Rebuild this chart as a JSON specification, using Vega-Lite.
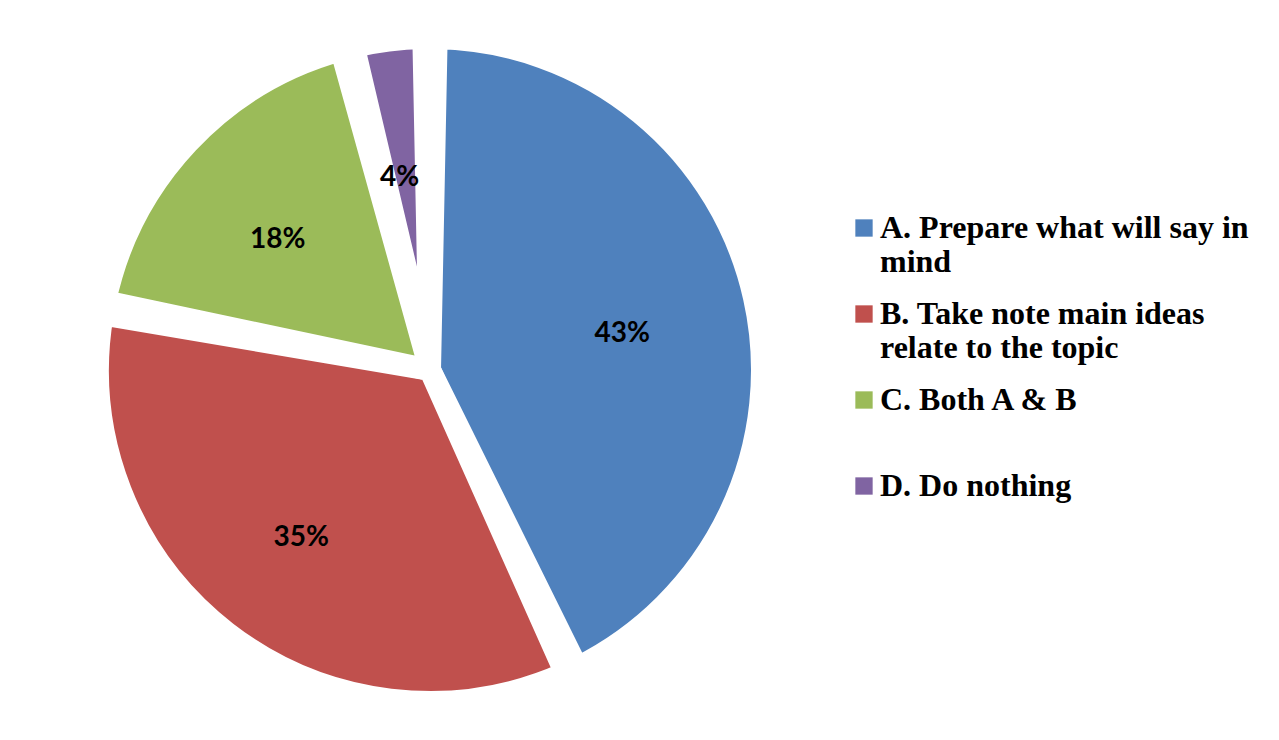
{
  "$schema": "https://vega.github.io/schema/vega-lite/v6.json",
  "width": 860,
  "height": 740,
  "padding": 0,
  "autosize": {"type": "pad"},
  "background": "white",
  "view": {"stroke": null},
  "data": {
    "values": [
      {"category": "A. Prepare what will say in mind", "share": 0.43},
      {"category": "B. Take note main ideas relate to the topic", "share": 0.35},
      {"category": "C. Both A & B", "share": 0.18},
      {"category": "D. Do nothing", "share": 0.04}
    ]
  },
  "encoding": {
    "theta": {"field": "share", "type": "quantitative", "stack": true},
    "order": {"field": "category", "type": "nominal"}
  },
  "layer": [
    {
      "mark": {"type": "arc", "radius": 332, "stroke": "white", "strokeWidth": 22, "padAngle": 0.04, "strokeJoin": "round"},
      "encoding": {
        "color": {
          "field": "category",
          "type": "nominal",
          "scale": {
            "domain": ["A. Prepare what will say in mind", "B. Take note main ideas relate to the topic", "C. Both A & B", "D. Do nothing"],
            "range": ["#4F81BD", "#C0504D", "#9BBB59", "#8064A2"]
          },
          "legend": {
            "title": null,
            "orient": "none",
            "legendX": 848,
            "legendY": 212,
            "symbolType": "square",
            "symbolSize": 300,
            "symbolStrokeWidth": 0,
            "labelFont": "Liberation Serif",
            "labelFontWeight": "bold",
            "labelFontSize": 32,
            "labelColor": "black",
            "labelLimit": 440,
            "labelOffset": 0,
            "rowPadding": 20,
            "labelExpr": "datum.label == 'A. Prepare what will say in mind' ? ['A. Prepare what will say in', 'mind'] : datum.label == 'B. Take note main ideas relate to the topic' ? ['B. Take note main ideas', 'relate to the topic'] : [datum.label, '']"
          }
        }
      }
    },
    {
      "mark": {"type": "text", "radius": 202, "font": "Lato", "fontWeight": "bold", "fontSize": 28, "color": "black", "dy": 8, "dx": -5},
      "encoding": {
        "text": {"field": "share", "type": "quantitative", "format": ".0%"}
      }
    }
  ]
}
